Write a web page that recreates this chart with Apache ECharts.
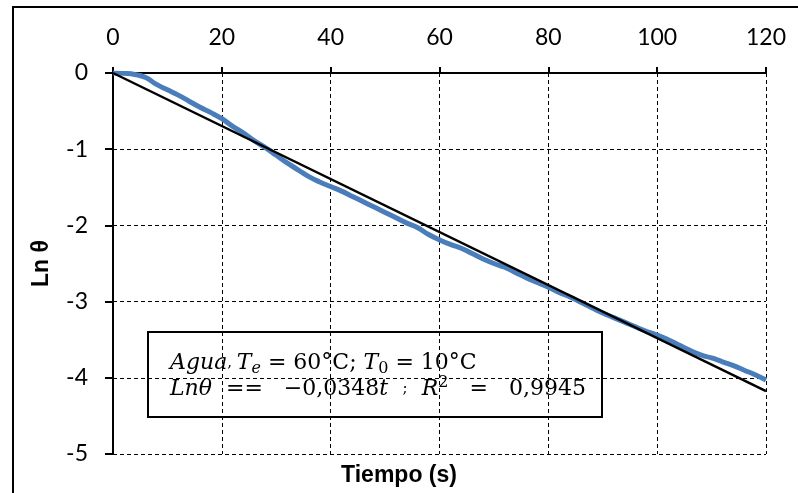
<!DOCTYPE html>
<html>
<head>
<meta charset="utf-8">
<script src="https://cdn.jsdelivr.net/npm/echarts@6/dist/echarts.min.js"></script>
<style>
  html, body { margin: 0; padding: 0; background: #fff; }
  #chart { width: 798px; height: 493px; }
</style>
</head>
<body>
<div id="chart"></div>
<script>
const tiempo = [0, 2, 4, 6, 8, 10, 12, 14, 16, 18, 20, 22, 24, 26, 28, 30, 32, 34, 36, 38,
  40, 42, 44, 46, 48, 50, 52, 54, 56, 58, 60, 62, 64, 66, 68, 70, 72, 74, 76, 78,
  80, 82, 84, 86, 88, 90, 92, 94, 96, 98, 100, 102, 104, 106, 108, 110, 112, 114, 116, 118, 120]
const lnTheta = [0, -0.005, -0.02, -0.06, -0.15, -0.22, -0.29, -0.37, -0.45, -0.52,
  -0.6, -0.7, -0.79, -0.89, -0.98, -1.08, -1.18, -1.27, -1.36, -1.43,
  -1.49, -1.55, -1.62, -1.69, -1.76, -1.83, -1.9, -1.97, -2.03, -2.12,
  -2.19, -2.25, -2.3, -2.37, -2.44, -2.5, -2.55, -2.62, -2.69, -2.75,
  -2.81, -2.88, -2.94, -3.01, -3.08, -3.15, -3.21, -3.27, -3.33, -3.39,
  -3.44, -3.5, -3.57, -3.64, -3.7, -3.74, -3.79, -3.84, -3.9, -3.96, -4.03]

// extremos de la recta de ajuste
const ajusteT = [0, 120]
const ajusteLn = [0, -4.176]

const xTicks = [0, 20, 40, 60, 80, 100, 120]
const yTicks = [0, -1, -2, -3, -4, -5]

const chart = echarts.init(document.getElementById('chart'))

const labelFont = { fontFamily: 'Lato', fontSize: 23, color: '#000' }
const mathFont = { fontFamily: 'DejaVu Serif', fontSize: 22, color: '#000' }

chart.setOption({
  animation: false,
  backgroundColor: '#fff',
  grid: { left: 113, right: 32, top: 73, bottom: 39, containLabel: false },
  xAxis: {
    type: 'value',
    position: 'top',
    min: xTicks[0],
    max: xTicks[xTicks.length - 1],
    interval: 20,
    axisLine: { onZero: false, lineStyle: { color: '#000', width: 2 } },
    axisTick: { show: true, length: 6, lineStyle: { color: '#000', width: 2 } },
    axisLabel: Object.assign({ margin: 24 }, labelFont),
    splitLine: { show: true, lineStyle: { color: '#000', width: 1, type: [4, 3] } }
  },
  yAxis: {
    type: 'value',
    min: yTicks[yTicks.length - 1],
    max: yTicks[0],
    interval: 1,
    name: 'Ln θ',
    nameLocation: 'middle',
    nameRotate: 90,
    nameGap: 60,
    nameTextStyle: { fontFamily: 'Liberation Sans', fontWeight: 'bold', fontSize: 23, color: '#000' },
    axisLine: { onZero: false, lineStyle: { color: '#000', width: 2 } },
    axisTick: { show: true, length: 8, lineStyle: { color: '#000', width: 2 } },
    axisLabel: Object.assign({ margin: 25 }, labelFont),
    splitLine: { show: true, lineStyle: { color: '#000', width: 1, type: [4, 3] } }
  },
  series: [
    {
      name: 'Agua',
      type: 'line',
      data: tiempo.map((t, i) => [t, lnTheta[i]]),
      smooth: true,
      showSymbol: false,
      lineStyle: { color: '#4a7ebb', width: 5 },
      z: 2
    },
    {
      name: 'Ajuste',
      type: 'line',
      data: ajusteT.map((t, i) => [t, ajusteLn[i]]),
      showSymbol: false,
      lineStyle: { color: '#000', width: 2.5 },
      z: 3
    }
  ],
  graphic: [
    {
      type: 'rect',
      shape: { x: 13, y: 7, width: 900, height: 600 },
      style: { fill: 'none', stroke: '#000', lineWidth: 2 },
      z: 100
    },
    {
      type: 'text',
      left: 'center',
      top: 464,
      style: {
        text: 'Tiempo (s)',
        fontFamily: 'Liberation Sans',
        fontWeight: 'bold',
        fontSize: 23,
        fill: '#000'
      }
    },
    {
      type: 'group',
      z: 50,
      children: [
        {
          type: 'rect',
          shape: { x: 148, y: 332, width: 454, height: 85 },
          style: { fill: '#fff', stroke: '#000', lineWidth: 2 }
        },
        {
          type: 'text',
          x: 170,
          y: 350,
          style: {
            text: '{i|Agua}{c|, }{i|T}{sub|e}{n| = 60°C; }{i|T}{sub0|0}{n| = 10°C}\n' +
                  '{i|Lnθ}{n|  ==   −0,0348}{i|t}{c|   ;   }{i|R}{sup|2}{n|   =   0,9945}',
            lineHeight: 26,
            rich: {
              i: Object.assign({ fontStyle: 'italic', lineHeight: 26 }, mathFont),
              n: Object.assign({ lineHeight: 26 }, mathFont),
              c: Object.assign({ lineHeight: 26 }, mathFont, { color: '#777', fontSize: 15 }),
              sub: Object.assign({ fontStyle: 'italic', lineHeight: 26, padding: [12, 0, 0, 0] }, mathFont, { fontSize: 16 }),
              sub0: Object.assign({ lineHeight: 26, padding: [12, 0, 0, 0] }, mathFont, { fontSize: 16 }),
              sup: Object.assign({ lineHeight: 26, padding: [0, 0, 12, 0] }, mathFont, { fontSize: 16 })
            }
          }
        }
      ]
    }
  ]
})
</script>
</body>
</html>
